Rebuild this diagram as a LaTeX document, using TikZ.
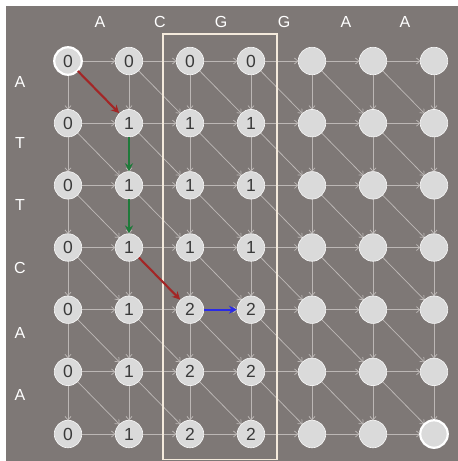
\documentclass[tikz,border=0pt]{standalone}
\usepackage{fontspec}
\setmainfont{Liberation Sans}
\usetikzlibrary{arrows.meta}
\definecolor{bg}{HTML}{7E7876}
\definecolor{nodefill}{HTML}{DADADA}
\definecolor{edgegray}{HTML}{BCB7B5}
\definecolor{pathred}{HTML}{A32626}
\definecolor{pathgreen}{HTML}{1F7A3A}
\definecolor{pathblue}{HTML}{2A2AE6}
\definecolor{boxline}{HTML}{F4EADC}
\definecolor{numcol}{HTML}{3A3A3A}
\begin{document}
\begin{tikzpicture}[x=1pt,y=-1pt,
  cell/.style={circle,fill=nodefill,draw=white!85!nodefill,line width=0.6pt,minimum size=27.5pt,inner sep=0pt,font=\fontsize{17.5}{17.5}\selectfont,text=numcol},
  endcell/.style={cell,draw=white,line width=2.2pt},
  lbl/.style={text=white,font=\fontsize{16}{16}\selectfont},
  grayedge/.style={draw=edgegray,line width=0.75pt,-{Straight Barb[length=3.5pt,width=6pt]}},
  hl/.style={line width=2.1pt,-{Stealth[length=8pt,width=8pt]}}
]
\useasboundingbox (0,0) rectangle (458,461);
\fill[white] (0,0) rectangle (458,461);
\fill[bg] (6,6) rectangle (458,461);
% values
\def\vals{{{"0","0","0","0","","",""},{"0","1","1","1","","",""},{"0","1","1","1","","",""},{"0","1","1","1","","",""},{"0","1","2","2","","",""},{"0","1","2","2","","",""},{"0","1","2","2","","",""}}}
\foreach \r in {0,...,6}{
  \foreach \c in {0,...,6}{
    \pgfmathsetmacro{\xx}{68+61*\c}
    \pgfmathsetmacro{\yy}{61+62.17*\r}
    \coordinate (p\r-\c) at (\xx,\yy);
  }
}
% gray edges
\foreach \r in {0,...,6}{
  \foreach \c in {0,...,6}{
    \pgfmathtruncatemacro{\rn}{\r+1}
    \pgfmathtruncatemacro{\cn}{\c+1}
    \ifnum\c<6 \draw[grayedge,shorten <=13.5pt,shorten >=13.5pt] (p\r-\c) -- (p\r-\cn); \fi
    \ifnum\r<6 \draw[grayedge,shorten <=13.5pt,shorten >=13.5pt] (p\r-\c) -- (p\rn-\c); \fi
    \ifnum\r<6 \ifnum\c<6
      \ifnum\r=0 \ifnum\c=0 \else \draw[grayedge,shorten <=13.5pt,shorten >=13.5pt] (p\r-\c) -- (p\rn-\cn); \fi
      \else
        \ifnum\r=3 \ifnum\c=1 \else \draw[grayedge,shorten <=13.5pt,shorten >=13.5pt] (p\r-\c) -- (p\rn-\cn); \fi
        \else \draw[grayedge,shorten <=13.5pt,shorten >=13.5pt] (p\r-\c) -- (p\rn-\cn); \fi
      \fi
    \fi\fi
  }
}
% box
\draw[boxline,line width=1.4pt] (163,34) rectangle (277,459.5);
% nodes
\foreach \r in {0,...,6}{
  \foreach \c in {0,...,6}{
    \pgfmathsetmacro{\v}{\vals[\r][\c]}
    \node[cell] (n\r-\c) at (p\r-\c) {\v};
  }
}
\node[endcell] at (n0-0) {0};
\node[endcell] at (n6-6) {};
% highlighted path
\draw[hl,pathred] (n0-0) -- (n1-1);
\draw[hl,pathgreen] (n1-1) -- (n2-1);
\draw[hl,pathgreen] (n2-1) -- (n3-1);
\draw[hl,pathred] (n3-1) -- (n4-2);
\draw[hl,pathblue] (n4-2) -- (n4-3);
% labels
\foreach \t/\x in {A/100,C/160,G/221,G/284,A/346,A/405}{
  \node[lbl] at (\x,22) {\t};
}
\foreach \t/\y in {A/82,T/143,T/205,C/268,A/333,A/395}{
  \node[lbl] at (20,\y) {\t};
}
\end{tikzpicture}
\end{document}
